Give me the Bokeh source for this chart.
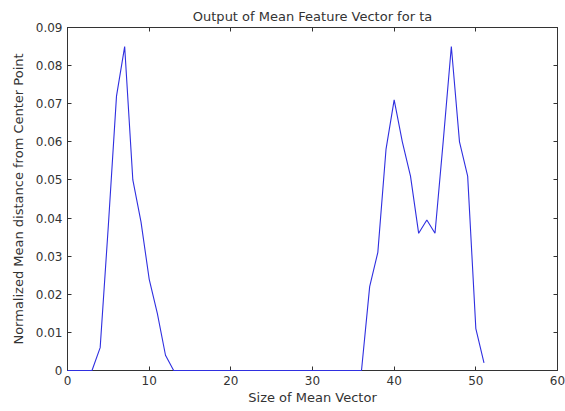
from bokeh.plotting import figure
from bokeh.models import FixedTicker, LinearAxis, CustomJSTickFormatter, Range1d
from bokeh.embed import file_html
from bokeh.resources import INLINE

x_vals = list(range(0, 52))
y_vals = [0, 0, 0, 0, 0.006, 0.038, 0.072, 0.085, 0.050, 0.039, 0.024, 0.015, 0.004,
          0, 0, 0, 0, 0, 0, 0, 0, 0, 0, 0, 0, 0, 0, 0, 0, 0, 0, 0, 0, 0, 0, 0, 0,
          0.022, 0.031, 0.058, 0.071, 0.060, 0.051, 0.036, 0.0395, 0.036, 0.060,
          0.085, 0.060, 0.051, 0.011, 0.002]
x_ticks = [0, 10, 20, 30, 40, 50, 60]
y_ticks = [0, 0.01, 0.02, 0.03, 0.04, 0.05, 0.06, 0.07, 0.08, 0.09]

title_text = "Output of Mean Feature Vector for ta"
x_label = "Size of Mean Vector"
y_label = "Normalized Mean distance from Center Point"

FONT = "DejaVu Sans"
TXT = "#333333"
AX = "#333333"

p = figure(width=565, height=411, output_backend="svg", toolbar_location=None,
           x_range=Range1d(0, 60), y_range=Range1d(0, 0.09),
           title=title_text, x_axis_location=None, y_axis_location=None,
           min_border_left=67, min_border_right=8,
           min_border_top=27, min_border_bottom=41)
p.title.align = "center"
p.title.text_font = FONT
p.title.text_font_size = "13px"
p.title.text_font_style = "normal"
p.title.text_color = TXT
p.title.offset = 0
p.title.standoff = 8

r = p.line(x_vals, y_vals, line_color="#2f2fe0", line_width=1.1)
r.level = "overlay"

p.grid.visible = False
p.outline_line_color = AX
p.outline_line_width = 1
p.background_fill_color = "white"
p.border_fill_color = "white"

bottom = LinearAxis(ticker=FixedTicker(ticks=x_ticks), axis_label=x_label)
left = LinearAxis(ticker=FixedTicker(ticks=y_ticks), axis_label=y_label,
                  formatter=CustomJSTickFormatter(code="return tick == 0 ? '0' : tick.toFixed(2);"))
top = LinearAxis(ticker=FixedTicker(ticks=x_ticks), major_label_text_alpha=0,
                 major_label_text_font_size="1px")
right = LinearAxis(ticker=FixedTicker(ticks=y_ticks), major_label_text_alpha=0,
                   major_label_text_font_size="1px")
p.add_layout(bottom, "below")
p.add_layout(left, "left")
p.add_layout(top, "above")
p.add_layout(right, "right")

for ax in [bottom, left, top, right]:
    ax.major_tick_in = 4
    ax.major_tick_out = 0
    ax.minor_tick_line_color = None
    ax.axis_line_color = AX
    ax.major_tick_line_color = AX
    ax.major_label_text_font = FONT
    ax.axis_label_text_font = FONT
    ax.axis_label_text_font_size = "13px"
    ax.axis_label_text_font_style = "normal"
    ax.axis_label_text_color = TXT
for ax in [bottom, left]:
    ax.major_label_text_font_size = "12px"
    ax.major_label_text_color = TXT
top.major_label_standoff = 0
right.major_label_standoff = 0
bottom.major_label_standoff = 5
left.major_label_standoff = 5
bottom.axis_label_standoff = 2
left.axis_label_standoff = 7

open("out.html", "w").write(file_html(p, INLINE))
